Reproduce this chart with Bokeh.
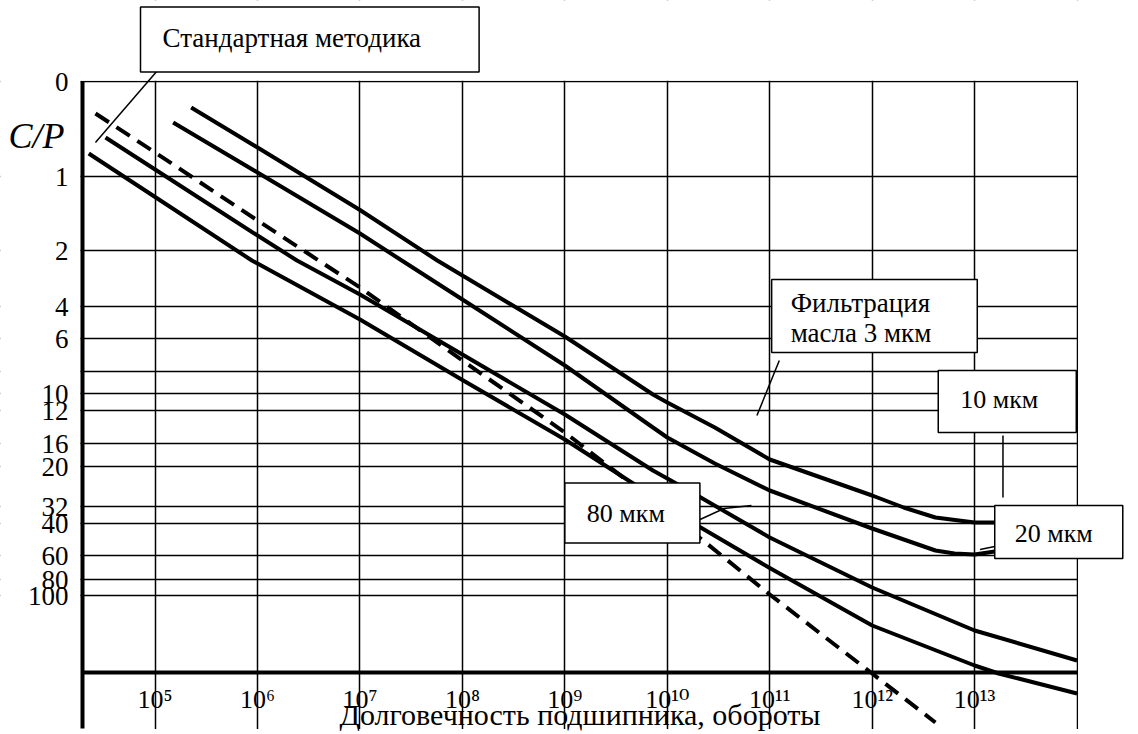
from bokeh.plotting import figure
from bokeh.models import Range1d, FixedTicker, Label, Arrow, BoxAnnotation
from bokeh.embed import file_html
from bokeh.resources import INLINE

# ---- data ----
# x: bearing life in revolutions (given as log10 exponents), y: position on the C/P scale
decades = [5, 6, 7, 8, 9, 10, 11, 12, 13]
x_tick_labels = ["10⁵", "10⁶", "10⁷", "10⁸", "10⁹", "10¹⁰", "10¹¹", "10¹²", "10¹³"]
cp_labels = ["0", "1", "2", "4", "6", "", "10", "12", "16", "20", "32", "40", "60", "80", "100"]
cp_pos = [0, 95, 169, 225, 257, 290, 312, 329, 362, 385, 425, 442, 474, 498, 514]
base_pos = 591

# oil filtration 3 um
a_exp = [5.352, 6, 7, 7.755, 8, 9, 9.86, 10, 10.464, 11, 12, 12.308, 12.617, 13, 13.196]
a_pos = [26, 66, 128.5, 179, 194, 255, 313, 321, 346, 378, 414, 426, 436, 441, 441]
# 10 um
b_exp = [5.176, 6, 7, 7.408, 8, 9, 9.86, 10, 10.464, 11, 12, 12.617, 12.804, 13, 13.196]
b_pos = [41, 91, 152, 179, 218, 284, 346, 356, 382, 409, 447, 469, 472, 473, 470]
# 20 um
c_exp = [4.516, 5, 6, 6.385, 7, 8, 9, 9.86, 10, 10.259, 11, 12, 13, 14]
c_pos = [56, 88, 154, 179, 213, 273, 333, 389, 397, 412, 456, 506, 549, 579]
# 80 um
d_exp = [4.352, 5, 5.945, 6, 7, 8, 9, 10, 10.259, 11, 12, 13, 13.234, 14]
d_pos = [72, 115.5, 179, 182, 238, 298.5, 358, 424, 442, 486.5, 544, 584, 592, 612]
# standard method (dashed)
e_exp = [4.418, 5, 6, 7, 8, 9, 10, 11, 12, 12.617]
e_pos = [32, 71, 139, 206, 279, 351, 430, 513, 592, 641]

FONT = "Liberation Serif"
X_LEFT = 4.2913   # left border of the chart (log10)
X_RIGHT = 14      # right border of the chart (log10)
Y_BOTTOM = 647    # lower end of the grid

def tenpow(seq):
    return [10.0 ** v for v in seq]

p = figure(width=1138, height=734, x_axis_type="log",
           x_range=Range1d(10 ** 3.4908, 10 ** 14.5998), y_range=Range1d(653, -81),
           output_backend="svg", toolbar_location=None, min_border=0)
p.title.visible = False
p.outline_line_color = None
p.background_fill_color = "white"
p.border_fill_color = "white"

# grids
p.xgrid.ticker = FixedTicker(ticks=tenpow(decades + [X_RIGHT]))
p.ygrid.ticker = FixedTicker(ticks=cp_pos)
for g in (p.xgrid[0], p.ygrid[0]):
    g.grid_line_color = "black"
    g.grid_line_width = 1.5
    g.grid_line_alpha = 1.0

# white masks that trim the grid to the chart area
for kw in (dict(bottom=-0.8), dict(top=Y_BOTTOM + 0.5),
           dict(right=10 ** (X_LEFT - 0.0195)), dict(left=10 ** (X_RIGHT + 0.0098))):
    p.add_layout(BoxAnnotation(fill_color="white", fill_alpha=1.0, line_color=None,
                               level="underlay", **kw))

# x axis placed on the thick base line
xa = p.xaxis[0]
xa.fixed_location = base_pos
xa.bounds = (10 ** X_LEFT, 10 ** X_RIGHT)
xa.ticker = FixedTicker(ticks=tenpow(decades))
xa.major_label_overrides = {10.0 ** d: lab for d, lab in zip(decades, x_tick_labels)}
xa.axis_line_width = 4
xa.axis_line_color = "black"
xa.major_tick_in = 0
xa.major_tick_out = 0
xa.minor_tick_line_color = None
xa.major_label_standoff = 12
xa.major_label_text_font = "Liberation Serif, DejaVu Serif"
xa.major_label_text_font_size = "26px"
xa.major_label_text_color = "black"
xa.axis_label = "Долговечность подшипника, обороты"
xa.axis_label_text_font = FONT
xa.axis_label_text_font_size = "30px"
xa.axis_label_text_font_style = "normal"
xa.axis_label_text_color = "black"
xa.axis_label_standoff = -19

ya = p.yaxis[0]
ya.fixed_location = 10 ** X_LEFT
ya.bounds = (0, Y_BOTTOM)
ya.ticker = FixedTicker(ticks=cp_pos)
ya.major_label_overrides = {pos: lab for pos, lab in zip(cp_pos, cp_labels)}
ya.axis_line_width = 4
ya.axis_line_color = "black"
ya.major_tick_in = 0
ya.major_tick_out = 0
ya.minor_tick_line_color = None
ya.major_label_standoff = 14
ya.major_label_text_font = FONT
ya.major_label_text_font_size = "27px"
ya.major_label_text_color = "black"

# curves
for ex, ps in ((a_exp, a_pos), (b_exp, b_pos), (c_exp, c_pos), (d_exp, d_pos)):
    p.line(tenpow(ex), ps, line_color="black", line_width=4)
p.line(tenpow(e_exp), e_pos, line_color="black", line_width=4, line_dash="16 9")

# annotations: boxed captions (anchored at the box's left edge / vertical middle)
def box(x, y, text, pad, size):
    p.add_layout(Label(x=10 ** x, y=y, text=text, text_font=FONT, text_font_size=size,
                       text_align="left", text_baseline="middle", text_color="black",
                       background_fill_color="white", background_fill_alpha=1.0,
                       border_line_color="black", border_line_width=1.5,
                       padding=pad, text_line_height=1.0))

def leader(x0, y0, x1, y1):
    p.add_layout(Arrow(end=None, x_start=10 ** x0, y_start=y0, x_end=10 ** x1, y_end=y1,
                       line_color="black", line_width=1.5))

leader(5.0234, -11, 4.4176, 61)
leader(11.0935, 279, 10.875, 334)
leader(13.2768, 354, 13.2768, 416)
leader(10.2768, 440, 10.5536, 427)
leader(10.5536, 427, 10.8214, 424)
leader(13.0536, 468, 13.1964, 465)

# padding as (left, right, top, bottom)
box(4.8575, -42, "Стандартная методика", (22, 58, 16, 19), "27px")
box(11.0187, 234.5, "Фильтрация\nмасла 3 мкм", (19, 46, 8, 5), "27px")
box(12.6449, 320, "10 мкм", (22, 38, 14, 19), "26px")
box(13.1964, 450.5, "20 мкм", (20, 30, 13, 11), "26px")
box(9.0, 431.5, "80 мкм", (22, 35, 16, 15), "26px")

p.add_layout(Label(x=10 ** 3.8422, y=54, text="C/P", text_font=FONT, text_font_size="36px",
                   text_font_style="italic", text_align="center", text_baseline="middle",
                   text_color="black"))

open("out.html", "w").write(file_html(p, INLINE))
